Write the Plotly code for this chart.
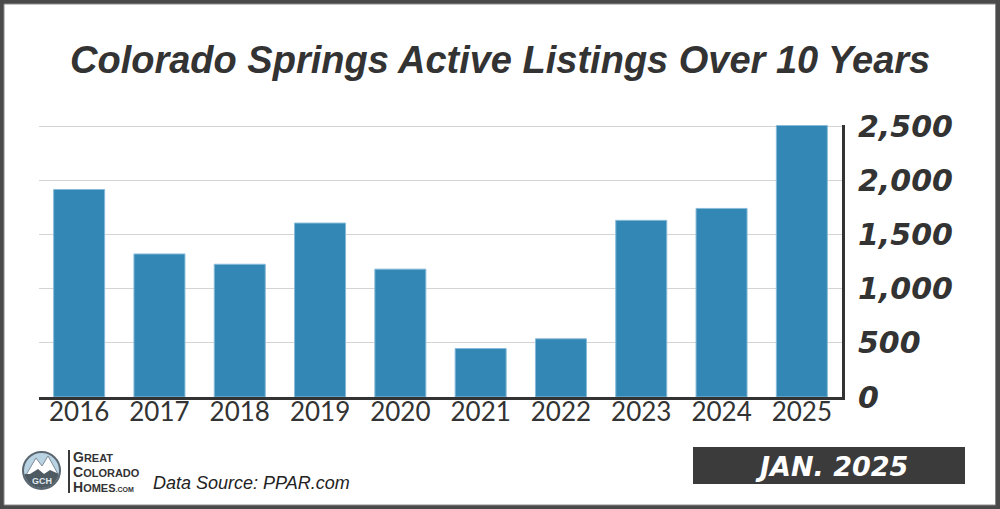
import plotly.graph_objects as go
import math

years = ["2016", "2017", "2018", "2019", "2020", "2021", "2022", "2023", "2024", "2025"]
listings = [1915, 1320, 1225, 1605, 1180, 447, 537, 1630, 1740, 2506]
y_ticks = [0, 500, 1000, 1500, 2000, 2500]
y_tick_labels = ["0", "500", "1,000", "1,500", "2,000", "2,500"]

W, H = 1000, 509
ML, MR, MT, MB = 39, 158, 125, 112
PW, PH = W - ML - MR, H - MT - MB


def px(x):
    return (x - ML) / PW


def py(y):
    return (H - MB - y) / PH


fig = go.Figure()
fig.add_trace(go.Bar(
    x=years, y=listings,
    marker=dict(color="#3387b5", line=dict(color="#86bad8", width=1)),
    hoverinfo="x+y",
))

shapes = []
# white card on dark frame
shapes.append(dict(type="rect", xref="paper", yref="paper", layer="below",
                   x0=px(4), x1=px(995.5), y0=py(4), y1=py(505),
                   fillcolor="white", line=dict(color="#8a8a8a", width=1)))
# date box
shapes.append(dict(type="rect", xref="paper", yref="paper",
                   x0=px(693), x1=px(965), y0=py(447), y1=py(484),
                   fillcolor="#3b3b3c", line=dict(width=0)))
# logo circle
shapes.append(dict(type="circle", xref="paper", yref="paper",
                   x0=px(23), x1=px(60), y0=py(452), y1=py(489),
                   fillcolor="#b9d3e3", line=dict(color="#5b6770", width=2)))


def poly(points):
    return "M " + " L ".join(f"{px(a):.5f},{py(b):.5f}" for a, b in points) + " Z"


shapes.append(dict(type="path", xref="paper", yref="paper",
                   path=poly([(26, 475), (36, 458), (42, 466), (48, 456), (58, 474)]),
                   fillcolor="white", line=dict(color="#7d8c96", width=1)))
cx, cy, r = 41.5, 470.5, 17.5
arc = [(cx + r * math.cos(math.radians(a)), cy + r * math.sin(math.radians(a))) for a in range(10, 171, 10)]
shapes.append(dict(type="path", xref="paper", yref="paper",
                   path=poly([(58.8, 474), (50, 470), (44, 474), (38, 469), (30, 474), (24.2, 474)] + arc[::-1]),
                   fillcolor="#4f5b63", line=dict(width=0)))
shapes.append(dict(type="line", xref="paper", yref="paper",
                   x0=px(69), x1=px(69), y0=py(450), y1=py(493),
                   line=dict(color="#3a3a3a", width=2)))

annotations = []
annotations.append(dict(text="Colorado Springs Active Listings Over 10 Years",
                        xref="paper", yref="paper", x=px(500), y=py(60),
                        xanchor="center", yanchor="middle", showarrow=False,
                        font=dict(family="Liberation Sans", size=38, color="#333333",
                                  weight="bold", style="italic")))
annotations.append(dict(text="JAN. 2025", xref="paper", yref="paper",
                        x=px(831), y=py(466), xanchor="center", yanchor="middle", showarrow=False,
                        font=dict(family="DejaVu Sans", size=27, color="white",
                                  weight="bold", style="italic")))
annotations.append(dict(text="Data Source: PPAR.com", xref="paper", yref="paper",
                        x=px(151), y=py(483), xanchor="left", yanchor="middle", showarrow=False,
                        font=dict(family="Liberation Sans", size=18, color="#222222", style="italic")))
for label, yy in [("G<span style='font-size:11px'>REAT</span>", 457),
                  ("C<span style='font-size:11px'>OLORADO</span>", 472),
                  ("H<span style='font-size:11px'>OMES</span><span style='font-size:7px'>.COM</span>", 487)]:
    annotations.append(dict(text=label, xref="paper", yref="paper",
                            x=px(71), y=py(yy), xanchor="left", yanchor="middle", showarrow=False,
                            font=dict(family="Liberation Sans", size=14, color="#333333", weight="bold")))
annotations.append(dict(text="GCH", xref="paper", yref="paper", x=px(41.5), y=py(481),
                        xanchor="center", yanchor="middle", showarrow=False,
                        font=dict(family="Liberation Sans", size=9, color="#dfe9ef", weight="bold")))

fig.update_layout(
    width=W, height=H,
    margin=dict(l=ML, r=MR, t=MT, b=MB, pad=0),
    paper_bgcolor="#4a4a4a",
    plot_bgcolor="rgba(0,0,0,0)",
    bargap=0.365,
    showlegend=False,
    shapes=shapes,
    annotations=annotations,
    xaxis=dict(
        type="category", range=[-0.5, 9.5],
        showline=True, linecolor="#333333", linewidth=3,
        ticks="", showgrid=False,
        tickfont=dict(family="Lato", size=26, color="#333333"),
        ticklabelstandoff=-10,
    ),
    yaxis=dict(
        side="right", range=[0, 2510],
        tickvals=y_ticks, ticktext=y_tick_labels,
        showgrid=True, gridcolor="#d4d4d4", gridwidth=1,
        showline=True, linecolor="#333333", linewidth=3,
        ticks="", zeroline=False,
        tickfont=dict(family="DejaVu Sans", size=30, color="#333333",
                      weight="bold", style="italic"),
        ticklabelstandoff=7,
    ),
)

fig.write_html("out.html", config={"displayModeBar": False},
               post_script="document.body.style.margin='0';")
